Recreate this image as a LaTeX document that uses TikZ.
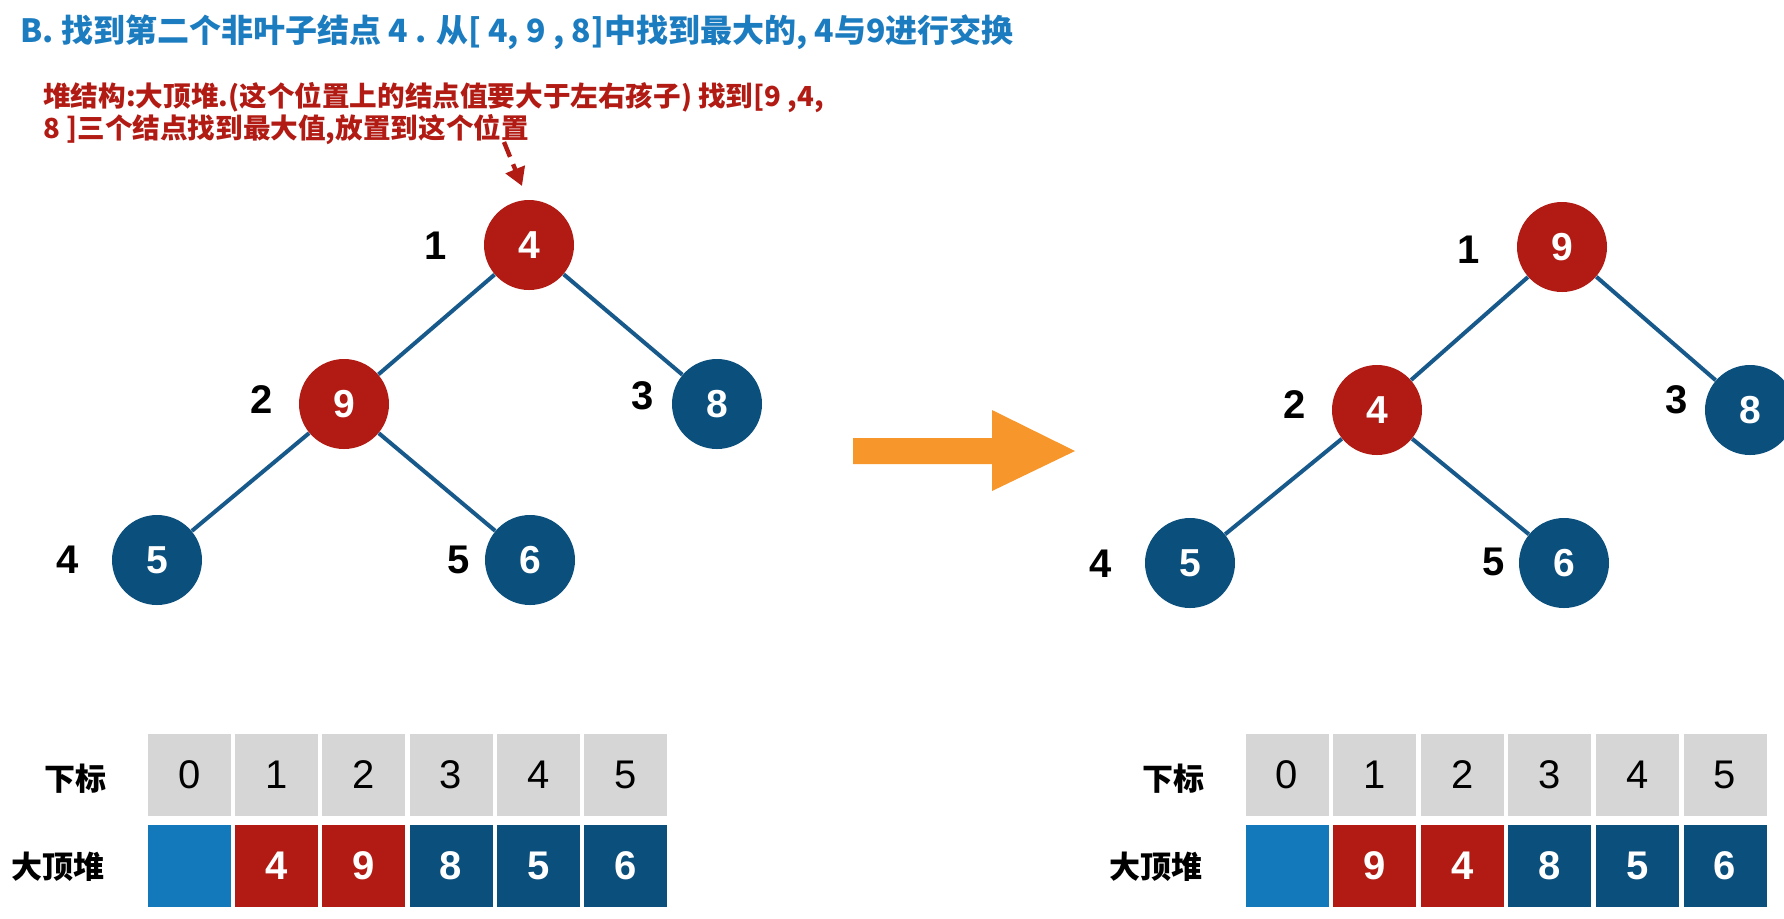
\documentclass[tikz,border=0pt]{standalone}
\usepackage{fontspec}
\setmainfont{Noto Sans CJK SC}
\setsansfont{Liberation Sans}
\usetikzlibrary{arrows.meta}
\definecolor{tblue}{HTML}{1C7CC0}
\definecolor{hred}{HTML}{B11B14}
\definecolor{hblue}{HTML}{0B4F7D}
\definecolor{lblue}{HTML}{1479BA}
\definecolor{cgray}{HTML}{D6D6D6}
\definecolor{orng}{HTML}{F7962A}
\definecolor{edgec}{HTML}{17598A}
\begin{document}
\begin{tikzpicture}[x=0.5pt,y=-0.5pt,
 hnode/.style={circle,minimum size=45pt,inner sep=0pt,text=white,font=\sffamily\bfseries\fontsize{19.5}{19.5}\selectfont},
 rnode/.style={hnode,fill=hred},
 bnode/.style={hnode,fill=hblue},
 idx/.style={font=\sffamily\bfseries\fontsize{20}{20}\selectfont},
 tedge/.style={edgec,line width=2pt},
 cell/.style={minimum width=41.5pt,minimum height=41pt,inner sep=0pt,font=\sffamily\fontsize{20}{20}\selectfont},
 hcell/.style={cell,fill=cgray,text=black},
 vfont/.style={font=\sffamily\bfseries\fontsize{20}{20}\selectfont},
 rcell/.style={cell,fill=hred,text=white,vfont},
 bcell/.style={cell,fill=hblue,text=white,vfont},
 lcell/.style={cell,fill=lblue},
 rowlab/.style={anchor=east,font=\bfseries\fontsize{15.5}{15.5}\selectfont}]
\useasboundingbox (0,0) rectangle (1784,918);
% title
\node[anchor=west,text=tblue,font=\bfseries\fontsize{16}{16}\selectfont,inner sep=0pt] (title) at (20,32)
  {B. 找到第二个非叶子结点 4 . 从[ 4, 9 , 8]中找到最大的, 4与9进行交换};
\node[anchor=north west,text=hred,align=left,inner sep=0pt,font=\bfseries\fontsize{13.8}{16}\selectfont] (note) at (43,82)
  {堆结构:大顶堆.(这个位置上的结点值要大于左右孩子) 找到[9 ,4,\\8 ]三个结点找到最大值,放置到这个位置};
% left tree
\node[rnode] (L1) at (529,245) {4};
\node[rnode] (L2) at (344,404) {9};
\node[bnode] (L3) at (717,404) {8};
\node[bnode] (L4) at (157,560) {5};
\node[bnode] (L5) at (530,560) {6};
\draw[tedge] (L1) -- (L2);
\draw[tedge] (L1) -- (L3);
\draw[tedge] (L2) -- (L4);
\draw[tedge] (L2) -- (L5);
\node[idx] (Li1) at (436,246) {1};
\node[idx] (Li2) at (262,400) {2};
\node[idx] (Li3) at (643,396) {3};
\node[idx] (Li4) at (68,560) {4};
\node[idx] (Li5) at (459,560) {5};
\coordinate (ann1) at (504,142);
\coordinate (ann2) at (522,186);
\draw[hred,line width=2.2pt,dash pattern=on 8pt off 4pt,-{Triangle[length=9pt,width=10pt]}] (ann1) -- (ann2);
% arrow
\fill[orng] (853,438) -- (992,438) -- (992,410) -- (1075,451) -- (992,491) -- (992,464) -- (853,464) -- cycle;
% right tree
\node[rnode] (R1) at (1562,247) {9};
\node[rnode] (R2) at (1377,410) {4};
\node[bnode] (R3) at (1750,410) {8};
\node[bnode] (R4) at (1190,563) {5};
\node[bnode] (R5) at (1564,563) {6};
\draw[tedge] (R1) -- (R2);
\draw[tedge] (R1) -- (R3);
\draw[tedge] (R2) -- (R4);
\draw[tedge] (R2) -- (R5);
\node[idx] (Ri1) at (1469,250) {1};
\node[idx] (Ri2) at (1295,405) {2};
\node[idx] (Ri3) at (1677,400) {3};
\node[idx] (Ri4) at (1101,564) {4};
\node[idx] (Ri5) at (1494,562) {5};
% left arrays
\node[rowlab] (Llab1) at (114,779) {下标};
\node[rowlab] (Llab2) at (112,867) {大顶堆};
\foreach \i in {0,...,5} \node[hcell] (Lh\i) at (189.5+87.2*\i,775) {\i};
\node[lcell] (Lv0) at (189.5,866) {};
\node[rcell] (Lv1) at (276.7,866) {4};
\node[rcell] (Lv2) at (363.9,866) {9};
\node[bcell] (Lv3) at (451.1,866) {8};
\node[bcell] (Lv4) at (538.3,866) {5};
\node[bcell] (Lv5) at (625.5,866) {6};
% right arrays
\node[rowlab] (Rlab1) at (1212,779) {下标};
\node[rowlab] (Rlab2) at (1210,867) {大顶堆};
\foreach \i in {0,...,5} \node[hcell] (Rh\i) at (1287+87.6*\i,775) {\i};
\node[lcell] (Rv0) at (1287,866) {};
\node[rcell] (Rv1) at (1374.6,866) {9};
\node[rcell] (Rv2) at (1462.2,866) {4};
\node[bcell] (Rv3) at (1549.8,866) {8};
\node[bcell] (Rv4) at (1637.4,866) {5};
\node[bcell] (Rv5) at (1725,866) {6};
\end{tikzpicture}
\end{document}
